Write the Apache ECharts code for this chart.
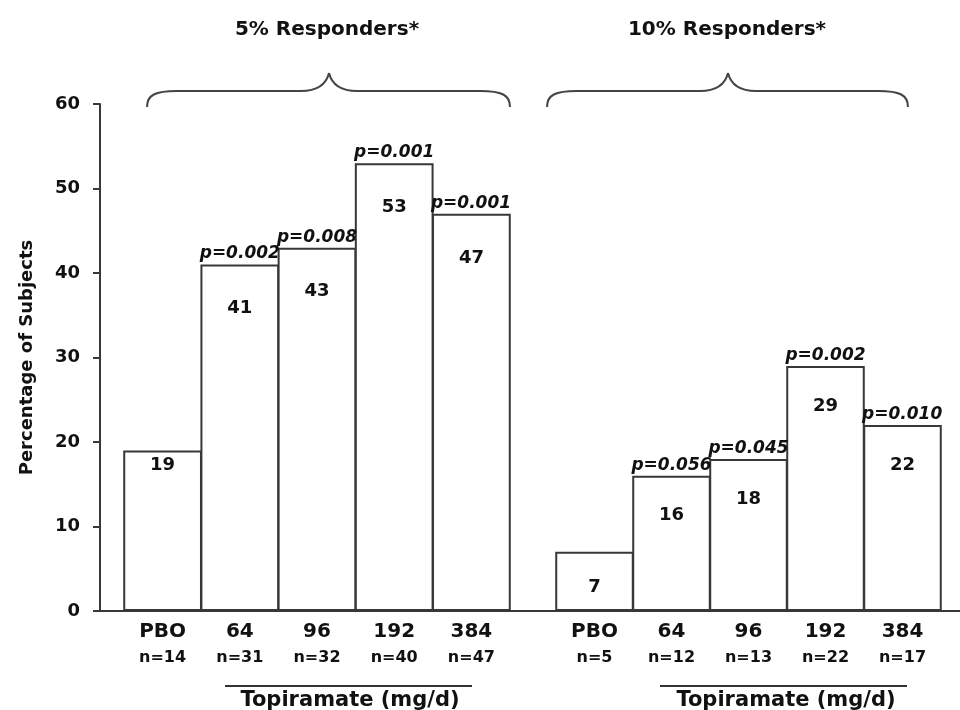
<!DOCTYPE html>
<html>
<head>
<meta charset="utf-8">
<title>Topiramate responders</title>
<script src="https://cdn.jsdelivr.net/npm/echarts@6/dist/echarts.min.js"></script>
<style>
  html, body { margin: 0; padding: 0; background: #fff; }
  #main { width: 960px; height: 710px; }
</style>
</head>
<body>
<div id="main"></div>
<script>
// dose groups (x categories)
var doses = ['PBO', '64', '96', '192', '384'];
// 5% responders
var resp5 = [19, 41, 43, 53, 47];
var n5 = [14, 31, 32, 40, 47];
var p5 = ['', '0.002', '0.008', '0.001', '0.001'];
// 10% responders
var resp10 = [7, 16, 18, 29, 22];
var n10 = [5, 12, 13, 22, 17];
var p10 = ['', '0.056', '0.045', '0.002', '0.010'];
// y axis ticks
var yTicks = [0, 10, 20, 30, 40, 50, 60];
var groupTitles = ['5% Responders*', '10% Responders*'];
var doseName = 'Topiramate (mg/d)';
var yName = 'Percentage of Subjects';

var FONT = 'DejaVu Sans';
var INK = '#111';
var EDGE = '#383838';

function xAxisFor(g, nList) {
  return {
    type: 'category',
    gridIndex: g,
    data: doses,
    axisLine: { show: false },
    axisTick: { show: false },
    axisLabel: {
      interval: 0,
      margin: 9,
      formatter: function (v, i) {
        return '{a|' + v + '}\n{b|n=' + nList[i] + '}';
      },
      rich: {
        a: { fontFamily: FONT, fontSize: 20, fontWeight: 'bold', color: INK, lineHeight: 24 },
        b: { fontFamily: FONT, fontSize: 16, fontWeight: 'bold', color: INK, lineHeight: 28 }
      }
    }
  };
}

function yAxisFor(g) {
  return {
    type: 'value', gridIndex: g, min: yTicks[0], max: yTicks[yTicks.length - 1],
    interval: yTicks[1] - yTicks[0], show: false
  };
}

// value bars, label inside near the top
function barSeries(g, vals) {
  return {
    type: 'bar',
    xAxisIndex: g, yAxisIndex: g,
    barWidth: '102%',
    barGap: '-100%',
    data: vals.map(function (v, i) {
      // placebo bars keep their number closer under the top
      if (i === 0) return { value: v, label: { distance: g === 0 ? 6 : 26 } };
      return v;
    }),
    itemStyle: { color: '#fff', borderColor: EDGE, borderWidth: 2 },
    label: {
      show: true, position: 'insideTop', distance: g === 0 ? 35 : 31,
      fontFamily: FONT, fontSize: 18, fontWeight: 'bold', color: INK
    },
    z: 2
  };
}

// p-value labels sitting on top of each bar
function pSeries(g, vals, pList) {
  return {
    type: 'bar',
    xAxisIndex: g, yAxisIndex: g,
    barWidth: '102%',
    barGap: '-100%',
    silent: true,
    data: vals,
    itemStyle: { color: 'transparent' },
    label: {
      show: true, position: 'top', distance: 2,
      fontFamily: FONT, fontSize: 17, fontWeight: 'bold', fontStyle: 'italic', color: INK,
      formatter: function (p) {
        return pList[p.dataIndex] ? 'p=' + pList[p.dataIndex] : '';
      }
    },
    z: 3
  };
}

// curly brace over a group, built from curves and straight pieces
function brace(x0, x1, peak) {
  var yEnd = 107, yMid = 91, yTop = 73;
  var st = { fill: null, stroke: '#444', lineWidth: 2 };
  function curve(a, b, c1, c2) {
    return {
      type: 'bezierCurve',
      shape: { x1: a[0], y1: a[1], x2: b[0], y2: b[1], cpx1: c1[0], cpy1: c1[1], cpx2: c2[0], cpy2: c2[1] },
      style: st
    };
  }
  function seg(a, b) {
    return { type: 'line', shape: { x1: a[0], y1: a[1], x2: b[0], y2: b[1] }, style: st };
  }
  return {
    type: 'group',
    children: [
      curve([x0, yEnd], [x0 + 30, yMid], [x0, yMid + 4], [x0 + 8, yMid]),
      seg([x0 + 30, yMid], [peak - 28, yMid]),
      curve([peak - 28, yMid], [peak, yTop], [peak - 12, yMid], [peak - 3, yMid - 6]),
      curve([peak, yTop], [peak + 28, yMid], [peak + 3, yMid - 6], [peak + 12, yMid]),
      seg([peak + 28, yMid], [x1 - 30, yMid]),
      curve([x1 - 30, yMid], [x1, yEnd], [x1 - 8, yMid], [x1, yMid + 4])
    ]
  };
}

function label(text, x, y, size) {
  return {
    type: 'text', x: x, y: y,
    style: {
      text: text, fill: INK,
      font: 'bold ' + size + 'px "' + FONT + '"',
      align: 'center', verticalAlign: 'middle',
      textAlign: 'center', textVerticalAlign: 'middle'
    }
  };
}

var chart = echarts.init(document.getElementById('main'), null, { renderer: 'canvas' });

var option = {
  backgroundColor: '#fff',
  animation: false,
  grid: [
    { left: 124, width: 386, top: 104, bottom: 99 },
    { left: 556, width: 385, top: 104, bottom: 99 },
    // full-width grid carrying the visible y axis and baseline
    { left: 100, right: 0, top: 104, bottom: 99 }
  ],
  xAxis: [
    xAxisFor(0, n5),
    xAxisFor(1, n10),
    {
      type: 'value', gridIndex: 2, min: 0, max: 1,
      axisLine: { show: true, lineStyle: { color: EDGE, width: 2 } },
      axisTick: { show: false }, axisLabel: { show: false }, splitLine: { show: false }
    }
  ],
  yAxis: [
    yAxisFor(0),
    yAxisFor(1),
    {
      type: 'value', gridIndex: 2,
      min: yTicks[0], max: yTicks[yTicks.length - 1], interval: yTicks[1] - yTicks[0],
      axisLine: { show: true, lineStyle: { color: EDGE, width: 2 } },
      axisTick: { show: true, inside: false, length: 7, lineStyle: { color: EDGE, width: 2 } },
      axisLabel: { margin: 20, fontFamily: FONT, fontSize: 18, fontWeight: 'bold', color: INK },
      splitLine: { show: false },
      name: yName,
      nameLocation: 'middle',
      nameGap: 64,
      nameTextStyle: { fontFamily: FONT, fontSize: 18, fontWeight: 'bold', color: INK }
    }
  ],
  series: [
    barSeries(0, resp5),
    pSeries(0, resp5, p5),
    barSeries(1, resp10),
    pSeries(1, resp10, p10)
  ],
  graphic: [
    label(groupTitles[0], 327, 30, 20),
    label(groupTitles[1], 727, 30, 20),
    brace(147, 510, 329),
    brace(547, 908, 728),
    { type: 'line', shape: { x1: 225, y1: 686, x2: 472, y2: 686 }, style: { stroke: '#333', lineWidth: 2 } },
    { type: 'line', shape: { x1: 660, y1: 686, x2: 907, y2: 686 }, style: { stroke: '#333', lineWidth: 2 } },
    label(doseName, 350, 701, 21),
    label(doseName, 786, 701, 21)
  ]
};

chart.setOption(option);
</script>
</body>
</html>
